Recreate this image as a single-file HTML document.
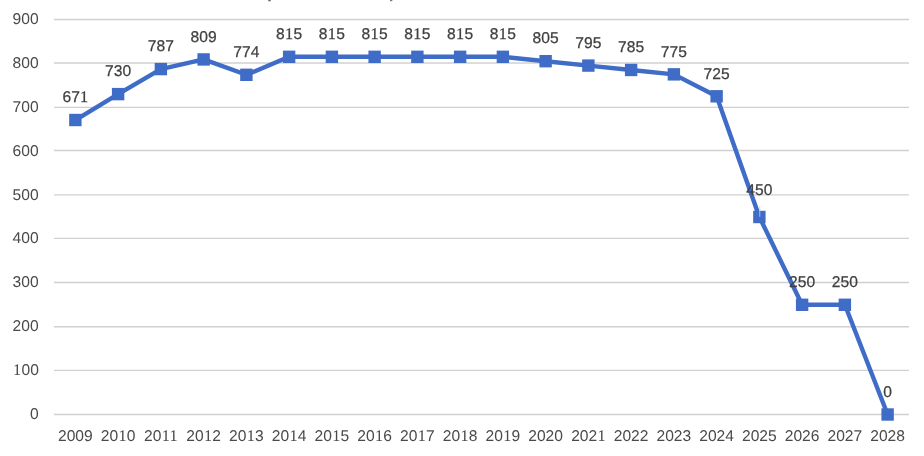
<!DOCTYPE html>
<html><head><meta charset="utf-8"><style>
html,body{margin:0;padding:0;background:#fff;}
body{width:924px;height:456px;overflow:hidden;}
svg{display:block;filter:blur(0.3px);}
text{font-family:"Liberation Sans",sans-serif;font-size:15.6px;fill:#404040;text-rendering:geometricPrecision;stroke:#404040;stroke-width:0.25px;}
.ax{fill:#4a4a4a;stroke:none;}
.o{font-family:"Liberation Serif",serif;font-size:16.3px;}
</style></head><body>
<svg width="924" height="456" viewBox="0 0 924 456">
<line x1="54.0" y1="414.50" x2="909.0" y2="414.50" stroke="#d0d0d0" stroke-width="1.35"/>
<line x1="54.0" y1="370.40" x2="909.0" y2="370.40" stroke="#d0d0d0" stroke-width="1.35"/>
<line x1="54.0" y1="326.70" x2="909.0" y2="326.70" stroke="#d0d0d0" stroke-width="1.35"/>
<line x1="54.0" y1="282.50" x2="909.0" y2="282.50" stroke="#d0d0d0" stroke-width="1.35"/>
<line x1="54.0" y1="238.40" x2="909.0" y2="238.40" stroke="#d0d0d0" stroke-width="1.35"/>
<line x1="54.0" y1="194.80" x2="909.0" y2="194.80" stroke="#d0d0d0" stroke-width="1.35"/>
<line x1="54.0" y1="150.50" x2="909.0" y2="150.50" stroke="#d0d0d0" stroke-width="1.35"/>
<line x1="54.0" y1="107.30" x2="909.0" y2="107.30" stroke="#d0d0d0" stroke-width="1.35"/>
<line x1="54.0" y1="63.00" x2="909.0" y2="63.00" stroke="#d0d0d0" stroke-width="1.35"/>
<line x1="54.0" y1="19.50" x2="909.0" y2="19.50" stroke="#d0d0d0" stroke-width="1.35"/>
<text class="ax" x="38.6" y="418.95" text-anchor="end">0</text>
<text class="ax" x="38.6" y="375.06" text-anchor="end"><tspan class="o" dx="0.26">1</tspan><tspan dx="0.26">0</tspan>0</text>
<text class="ax" x="38.6" y="331.17" text-anchor="end">200</text>
<text class="ax" x="38.6" y="287.28" text-anchor="end">300</text>
<text class="ax" x="38.6" y="243.39" text-anchor="end">400</text>
<text class="ax" x="38.6" y="199.51" text-anchor="end">500</text>
<text class="ax" x="38.6" y="155.62" text-anchor="end">600</text>
<text class="ax" x="38.6" y="111.73" text-anchor="end">700</text>
<text class="ax" x="38.6" y="67.84" text-anchor="end">800</text>
<text class="ax" x="38.6" y="23.95" text-anchor="end">900</text>
<text class="ax" x="75.38" y="441.0" text-anchor="middle">2009</text>
<text class="ax" x="118.12" y="441.0" text-anchor="middle">20<tspan class="o" dx="0.26">1</tspan><tspan dx="0.26">0</tspan></text>
<text class="ax" x="160.88" y="441.0" text-anchor="middle">20<tspan class="o" dx="0.26">1</tspan><tspan class="o" dx="0.26">1</tspan></text>
<text class="ax" x="203.62" y="441.0" text-anchor="middle">20<tspan class="o" dx="0.26">1</tspan><tspan dx="0.26">2</tspan></text>
<text class="ax" x="246.38" y="441.0" text-anchor="middle">20<tspan class="o" dx="0.26">1</tspan><tspan dx="0.26">3</tspan></text>
<text class="ax" x="289.12" y="441.0" text-anchor="middle">20<tspan class="o" dx="0.26">1</tspan><tspan dx="0.26">4</tspan></text>
<text class="ax" x="331.88" y="441.0" text-anchor="middle">20<tspan class="o" dx="0.26">1</tspan><tspan dx="0.26">5</tspan></text>
<text class="ax" x="374.62" y="441.0" text-anchor="middle">20<tspan class="o" dx="0.26">1</tspan><tspan dx="0.26">6</tspan></text>
<text class="ax" x="417.38" y="441.0" text-anchor="middle">20<tspan class="o" dx="0.26">1</tspan><tspan dx="0.26">7</tspan></text>
<text class="ax" x="460.12" y="441.0" text-anchor="middle">20<tspan class="o" dx="0.26">1</tspan><tspan dx="0.26">8</tspan></text>
<text class="ax" x="502.88" y="441.0" text-anchor="middle">20<tspan class="o" dx="0.26">1</tspan><tspan dx="0.26">9</tspan></text>
<text class="ax" x="545.62" y="441.0" text-anchor="middle">2020</text>
<text class="ax" x="588.38" y="441.0" text-anchor="middle">202<tspan class="o" dx="0.26">1</tspan></text>
<text class="ax" x="631.12" y="441.0" text-anchor="middle">2022</text>
<text class="ax" x="673.88" y="441.0" text-anchor="middle">2023</text>
<text class="ax" x="716.62" y="441.0" text-anchor="middle">2024</text>
<text class="ax" x="759.38" y="441.0" text-anchor="middle">2025</text>
<text class="ax" x="802.12" y="441.0" text-anchor="middle">2026</text>
<text class="ax" x="844.88" y="441.0" text-anchor="middle">2027</text>
<text class="ax" x="887.62" y="441.0" text-anchor="middle">2028</text>
<polyline points="75.38,120.01 118.12,94.11 160.88,69.09 203.62,59.44 246.38,74.80 289.12,56.81 331.88,56.81 374.62,56.81 417.38,56.81 460.12,56.81 502.88,56.81 545.62,61.19 588.38,65.58 631.12,69.97 673.88,74.36 716.62,96.31 759.38,217.00 802.12,304.78 844.88,304.78 887.62,414.50" fill="none" stroke="#3F6CC7" stroke-width="4.4" stroke-linejoin="round"/>
<rect x="69.17" y="113.81" width="12.4" height="12.4" fill="#3F6CC7"/>
<rect x="111.92" y="87.91" width="12.4" height="12.4" fill="#3F6CC7"/>
<rect x="154.68" y="62.89" width="12.4" height="12.4" fill="#3F6CC7"/>
<rect x="197.43" y="53.24" width="12.4" height="12.4" fill="#3F6CC7"/>
<rect x="240.18" y="68.60" width="12.4" height="12.4" fill="#3F6CC7"/>
<rect x="282.93" y="50.61" width="12.4" height="12.4" fill="#3F6CC7"/>
<rect x="325.68" y="50.61" width="12.4" height="12.4" fill="#3F6CC7"/>
<rect x="368.43" y="50.61" width="12.4" height="12.4" fill="#3F6CC7"/>
<rect x="411.18" y="50.61" width="12.4" height="12.4" fill="#3F6CC7"/>
<rect x="453.93" y="50.61" width="12.4" height="12.4" fill="#3F6CC7"/>
<rect x="496.68" y="50.61" width="12.4" height="12.4" fill="#3F6CC7"/>
<rect x="539.42" y="54.99" width="12.4" height="12.4" fill="#3F6CC7"/>
<rect x="582.17" y="59.38" width="12.4" height="12.4" fill="#3F6CC7"/>
<rect x="624.92" y="63.77" width="12.4" height="12.4" fill="#3F6CC7"/>
<rect x="667.67" y="68.16" width="12.4" height="12.4" fill="#3F6CC7"/>
<rect x="710.42" y="90.11" width="12.4" height="12.4" fill="#3F6CC7"/>
<rect x="753.17" y="210.80" width="12.4" height="12.4" fill="#3F6CC7"/>
<rect x="795.92" y="298.58" width="12.4" height="12.4" fill="#3F6CC7"/>
<rect x="838.67" y="298.58" width="12.4" height="12.4" fill="#3F6CC7"/>
<rect x="881.42" y="408.30" width="12.4" height="12.4" fill="#3F6CC7"/>
<text x="75.38" y="102.21" text-anchor="middle">67<tspan class="o" dx="0.26">1</tspan></text>
<text x="118.12" y="76.31" text-anchor="middle">730</text>
<text x="160.88" y="51.29" text-anchor="middle">787</text>
<text x="203.62" y="41.64" text-anchor="middle">809</text>
<text x="246.38" y="57.00" text-anchor="middle">774</text>
<text x="289.12" y="39.01" text-anchor="middle">8<tspan class="o" dx="0.26">1</tspan><tspan dx="0.26">5</tspan></text>
<text x="331.88" y="39.01" text-anchor="middle">8<tspan class="o" dx="0.26">1</tspan><tspan dx="0.26">5</tspan></text>
<text x="374.62" y="39.01" text-anchor="middle">8<tspan class="o" dx="0.26">1</tspan><tspan dx="0.26">5</tspan></text>
<text x="417.38" y="39.01" text-anchor="middle">8<tspan class="o" dx="0.26">1</tspan><tspan dx="0.26">5</tspan></text>
<text x="460.12" y="39.01" text-anchor="middle">8<tspan class="o" dx="0.26">1</tspan><tspan dx="0.26">5</tspan></text>
<text x="502.88" y="39.01" text-anchor="middle">8<tspan class="o" dx="0.26">1</tspan><tspan dx="0.26">5</tspan></text>
<text x="545.62" y="43.39" text-anchor="middle">805</text>
<text x="588.38" y="47.78" text-anchor="middle">795</text>
<text x="631.12" y="52.17" text-anchor="middle">785</text>
<text x="673.88" y="56.56" text-anchor="middle">775</text>
<text x="716.62" y="78.51" text-anchor="middle">725</text>
<text x="759.38" y="195.00" text-anchor="middle">450</text>
<text x="802.12" y="286.98" text-anchor="middle">250</text>
<text x="844.88" y="286.98" text-anchor="middle">250</text>
<text x="887.62" y="396.70" text-anchor="middle">0</text>
<rect x="268.3" y="0" width="2.4" height="1.3" fill="#666"/>
<rect x="390" y="0" width="2.3" height="1.2" fill="#777"/>
<rect x="759.2" y="206.3" width="1.1" height="10.5" fill="#c8d0e0" opacity="0.75"/>
</svg>
</body></html>
